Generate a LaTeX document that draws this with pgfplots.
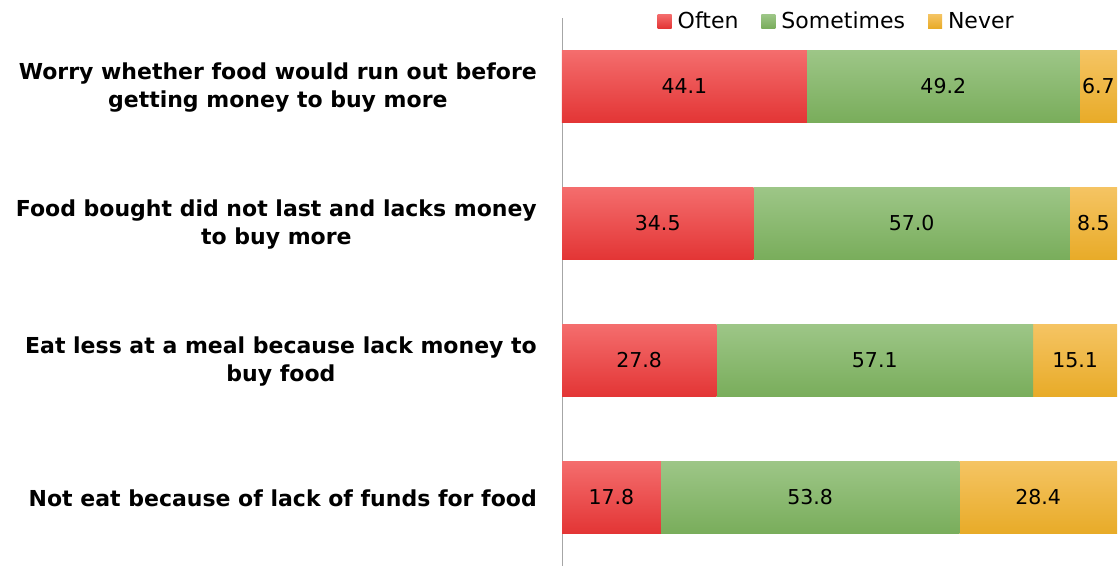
\documentclass[border=0pt]{standalone}
\usepackage{pgfplots}
\usepackage{pgfplotstable}
\pgfplotsset{compat=1.18}
\usepackage{fontspec}
\setmainfont{DejaVu Sans}
\definecolor{rtop}{HTML}{F46D6D}
\definecolor{rbot}{HTML}{E33535}
\definecolor{gtop}{HTML}{9DC687}
\definecolor{gbot}{HTML}{79AD5B}
\definecolor{otop}{HTML}{F5C463}
\definecolor{obot}{HTML}{E8AB28}
% y: 3 = top category
\pgfplotstableread{
y o s n
3 44.1 49.2 6.7
2 34.5 57.0 8.5
1 27.8 57.1 15.1
0 17.8 53.8 28.4
}\datatable
\pgfplotsset{
  catax/.style={
    scale only axis, width=555pt, height=137pt, anchor=south west,
    xbar stacked, bar width=72pt,
    xmin=0, xmax=100, ymin=-0.5, ymax=0.5,
    ytick={0},
    yticklabel style={align=center, font=\bfseries\fontsize{22}{28}\selectfont, inner sep=0pt, xshift=-25pt, yshift=-1pt},
    major tick length=0pt,
    axis y line=left, axis x line=none,
    axis line style={-, draw=gray!70, line width=0.8pt},
  },
  sr/.style={draw=none, top color=rtop, bottom color=rbot},
  sg/.style={draw=none, top color=gtop, bottom color=gbot},
  so/.style={draw=none, top color=otop, bottom color=obot},
}
\begin{document}
\begin{tikzpicture}[x=1pt,y=1pt]
\path[use as bounding box] (0,0) rectangle (1119,566);
% Not eat
\begin{axis}[catax, at={(562pt,0pt)},
  yticklabels={{Not eat because of lack of funds for food}}]
\addplot[sr] coordinates {(17.8,0)};
\addplot[sg] coordinates {(53.8,0)};
\addplot[so] coordinates {(28.4,0)};
\end{axis}
% Eat less
\begin{axis}[catax, at={(562pt,137pt)},
  yticklabels={{Eat less at a meal because lack money to\\buy food}}]
\addplot[sr] coordinates {(27.8,0)};
\addplot[sg] coordinates {(57.1,0)};
\addplot[so] coordinates {(15.1,0)};
\end{axis}
% Food bought
\begin{axis}[catax, at={(562pt,274pt)},
  yticklabels={{Food bought did not last and lacks money\\to buy more}}]
\addplot[sr] coordinates {(34.5,0)};
\addplot[sg] coordinates {(57.0,0)};
\addplot[so] coordinates {(8.5,0)};
\end{axis}
% Worry
\begin{axis}[catax, at={(562pt,411pt)},
  yticklabels={{Worry whether food would run out before\\getting money to buy more}},
  legend columns=3,
  legend style={at={(0.494,0.976)}, anchor=center, draw=none, fill=none,
    font=\fontsize{22}{26}\selectfont, inner sep=0pt,
    nodes={inner sep=1pt},
    /tikz/every even column/.append style={column sep=22pt}},
  legend image code/.code={\path[#1] (0pt,-7pt) rectangle (14pt,7pt); \path (0pt,0pt) -- (19pt,0pt);},
]
\addplot[sr] coordinates {(44.1,0)};
\addplot[sg] coordinates {(49.2,0)};
\addplot[so] coordinates {(6.7,0)};
\legend{Often, Sometimes, Never}
\end{axis}
% value labels
\begin{axis}[at={(562pt,0pt)}, anchor=south west,
  scale only axis, width=555pt, height=548pt,
  xmin=0, xmax=100, ymin=-0.5, ymax=3.5,
  axis lines=none, clip=false,
  nodes near coords, point meta=explicit symbolic,
  every node near coord/.append style={font=\fontsize{20.5}{24}\selectfont, anchor=center, text=black, inner sep=0pt},
]
\addplot[draw=none, mark=none] table[x expr=\thisrow{o}/2, y=y, meta=o] {\datatable};
\addplot[draw=none, mark=none] table[x expr=\thisrow{o}+\thisrow{s}/2, y=y, meta=s] {\datatable};
\addplot[draw=none, mark=none] table[x expr=\thisrow{o}+\thisrow{s}+\thisrow{n}/2, y=y, meta=n] {\datatable};
\end{axis}
\end{tikzpicture}
\end{document}
